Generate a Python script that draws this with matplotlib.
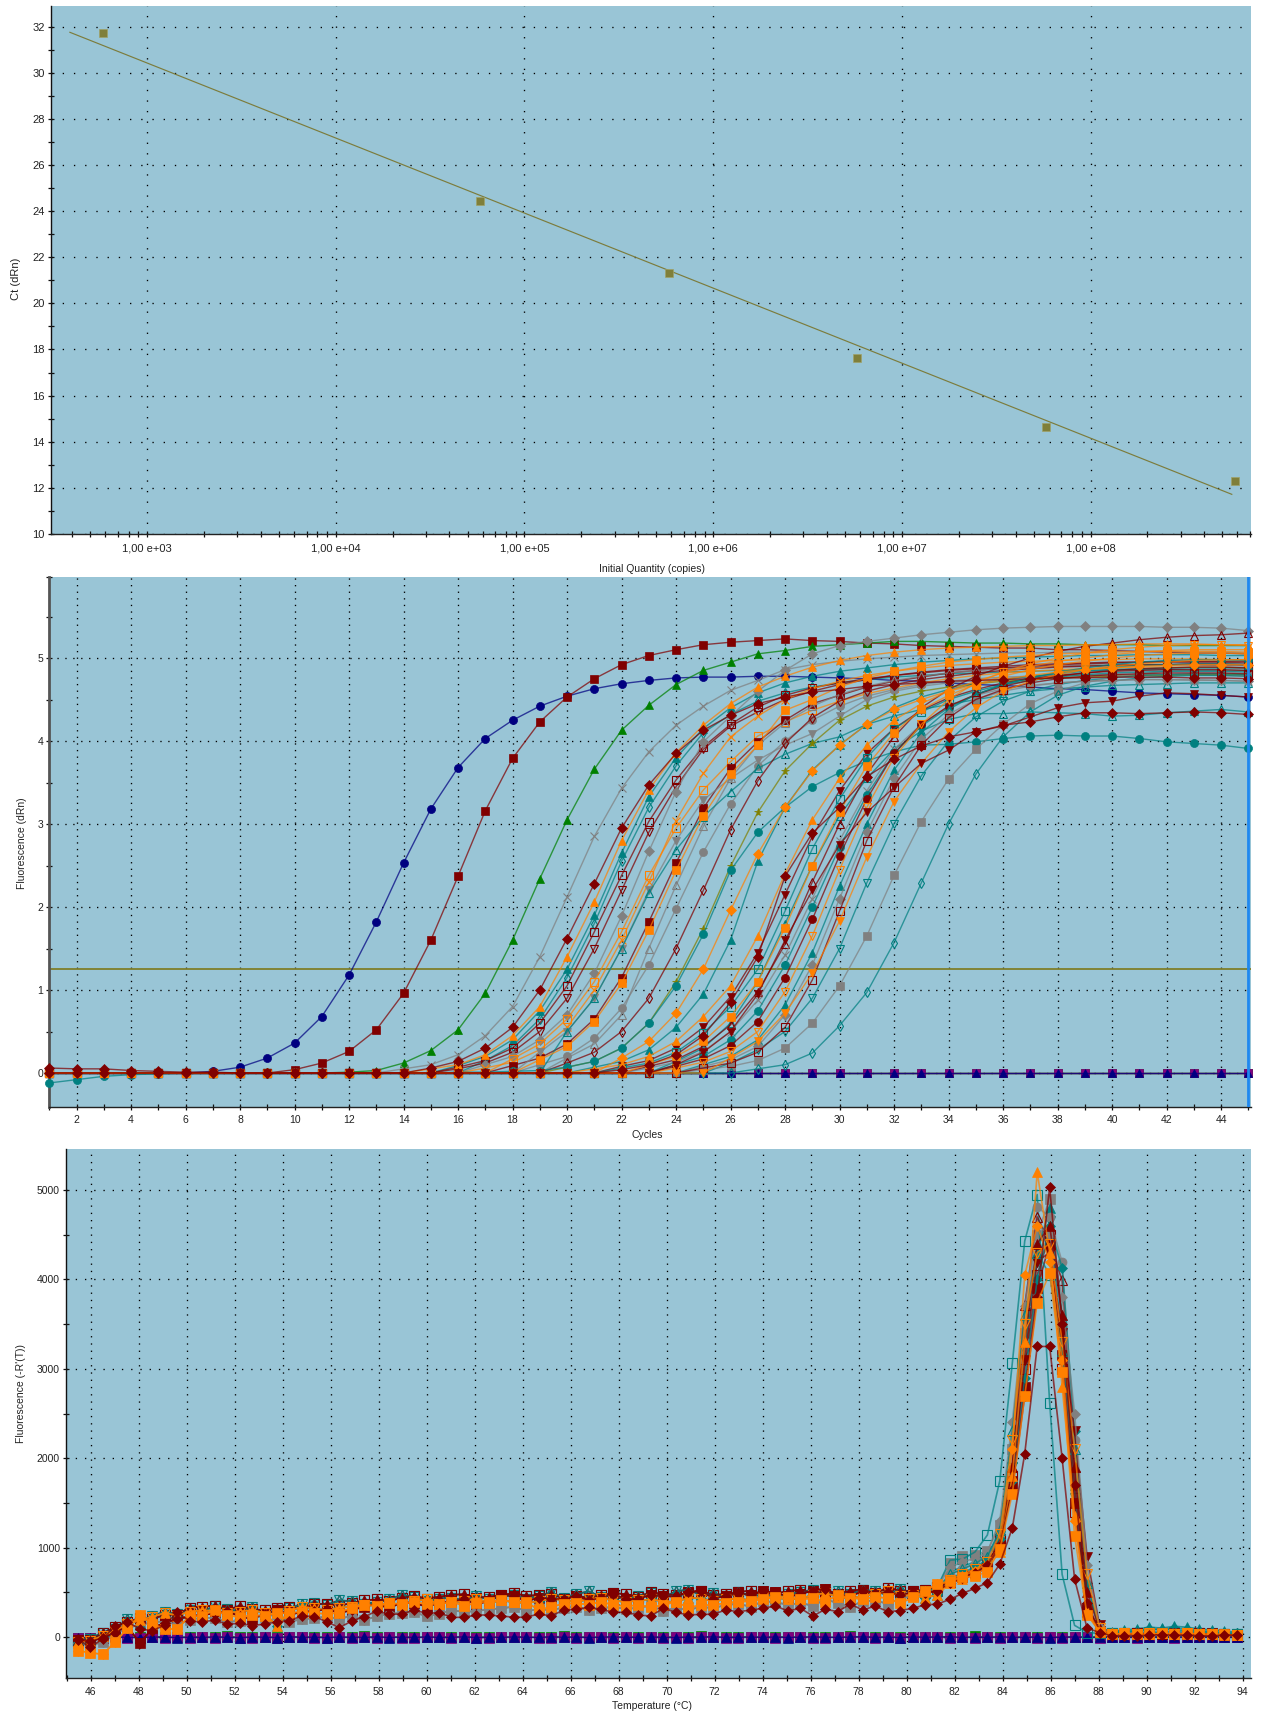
import numpy as np
import matplotlib
matplotlib.use('Agg')
import matplotlib.pyplot as plt
from matplotlib.colors import to_rgba

plt.rcParams['font.family'] = ['Liberation Sans', 'DejaVu Sans']

W, H = 1261, 1717
BG = '#99C5D6'
NAVY, MAROON, GREEN = '#000080', '#800000', '#008000'
GRAY, ORANGE, TEAL = '#808080', '#FF8000', '#008080'
OLIVE, PURPLE = '#808000', '#800080'

# --- standard curve ---
std_quantity = [5.85e2, 5.8e4, 5.8e5, 5.8e6, 5.8e7, 5.8e8]
std_ct = [31.7, 24.45, 21.3, 17.65, 14.65, 12.3]
fit_quantity = [3.9e2, 5.6e8]
fit_ct = [31.75, 11.72]
std_xticks = [1e3, 1e4, 1e5, 1e6, 1e7, 1e8]
std_xlabels = ['1,00 e+03', '1,00 e+04', '1,00 e+05', '1,00 e+06', '1,00 e+07', '1,00 e+08']

# --- amplification plot, values are the last cycles of each run up to cycle 45 ---
amp_threshold = 1.25
a_navy = [.02,.07,.18,.36,.68,1.18,1.82,2.53,3.18,3.68,4.03,4.25,4.42,4.54,4.63,4.69,4.73,4.76,4.77,4.77,4.78,4.78,4.77,4.76,4.75,4.73,4.72,4.70,4.68,4.67,4.65,4.63,4.62,4.60,4.58,4.57,4.56,4.55,4.53]
a_maroon1 = [.04,.12,.26,.52,.96,1.6,2.37,3.16,3.79,4.23,4.53,4.75,4.92,5.03,5.10,5.16,5.19,5.21,5.23,5.21,5.20,5.18,5.17,5.15,5.14,5.13,5.12,5.12,5.10,5.10,5.09,5.08,5.07,5.06,5.06,5.05]
a_green = [.01,.03,.12,.27,.52,.96,1.6,2.34,3.05,3.66,4.13,4.43,4.68,4.85,4.95,5.05,5.09,5.14,5.16,5.18,5.2,5.2,5.19,5.18,5.18,5.17,5.17,5.16,5.16,5.16,5.15,5.15,5.15,5.15]
a_gray_x = [.05,.1,.22,.45,.8,1.4,2.12,2.85,3.43,3.87,4.19,4.42,4.61,4.73,4.86,4.92,4.96,4.99,5.01,5.03,5.04,5.05,5.06,5.06,5.07,5.07,5.08,5.08,5.08,5.07,5.07,5.06]
a_mar_dia1 = [.06,.05,.05,.03,.02,.01,.01,0,0,0,0,0,0,0,.06,.14,.3,.55,1.0,1.62,2.28,2.95,3.47,3.85,4.13,4.31,4.45,4.53,4.59,4.62,4.66,4.68,4.7,4.72,4.73,4.74,4.75,4.76,4.76,4.77,4.77,4.77,4.76,4.76,4.75]
a_orange_tri = [.05,.1,.22,.45,.8,1.4,2.06,2.8,3.41,3.86,4.19,4.45,4.65,4.78,4.89,4.97,5.03,5.07,5.1,5.12,5.13,5.14,5.15,5.15,5.16,5.16,5.17,5.17,5.17,5.16,5.16]
a_teal_tri = [.09,.2,.4,.75,1.25,1.9,2.65,3.33,3.8,4.15,4.4,4.58,4.7,4.78,4.84,4.88,4.92,4.95,4.97,4.99,5.0,5.01,5.02,5.03,5.03,5.04,5.04,5.04,5.03,5.03]
a_teal_odia = [.15,.33,.65,1.15,1.8,2.55,3.2,3.7,4.1,4.32,4.48,4.58,4.65,4.7,4.74,4.77,4.79,4.81,4.82,4.83,4.84,4.85,4.85,4.86,4.86,4.86,4.85,4.85,4.85]
a_mar_osq = [.07,.15,.3,.6,1.05,1.7,2.38,3.03,3.53,3.93,4.2,4.41,4.55,4.64,4.7,4.75,4.79,4.82,4.85,4.87,4.88,4.89,4.9,4.91,4.91,4.92,4.92,4.92,4.91,4.91]
a_mar_otri = [.05,.12,.25,.5,.9,1.5,2.2,2.9,3.45,3.9,4.18,4.35,4.5,4.6,4.68,4.74,4.79,4.83,4.86,4.88,4.9,4.92,4.93,4.94,4.95,4.95,4.96,4.96,4.96,4.96]
a_gray_dia = [.1,.2,.4,.7,1.2,1.89,2.67,3.39,3.99,4.3,4.6,4.85,5.05,5.15,5.2,5.24,5.28,5.31,5.34,5.36,5.37,5.38,5.38,5.38,5.38,5.37,5.37,5.36,5.33]
a_orange_x = [.06,.13,.28,.55,1.0,1.6,2.3,3.04,3.61,4.05,4.3,4.5,4.63,4.72,4.79,4.84,4.88,4.91,4.93,4.95,4.96,4.97,4.98,4.98,4.99,4.99,4.99,4.98,4.98]
a_orange_osq = [.17,.35,.65,1.1,1.7,2.38,2.95,3.41,3.75,4.06,4.23,4.37,4.48,4.57,4.64,4.7,4.75,4.79,4.82,4.84,4.86,4.87,4.88,4.89,4.89,4.89,4.89,4.88]
a_mar_sq2 = [.09,.18,.35,.65,1.15,1.82,2.53,3.19,3.67,3.99,4.25,4.45,4.55,4.65,4.72,4.77,4.82,4.85,4.88,4.9,4.92,4.93,4.94,4.95,4.95,4.95,4.95,4.94]
a_orange_sq = [.16,.32,.62,1.08,1.72,2.44,3.1,3.6,3.95,4.37,4.5,4.65,4.76,4.84,4.9,4.95,4.98,5.01,5.03,5.05,5.06,5.07,5.08,5.08,5.08,5.08,5.07]
a_gray_cir = [.1,.2,.42,.78,1.3,1.98,2.66,3.24,3.7,4.0,4.25,4.42,4.54,4.62,4.68,4.72,4.75,4.77,4.78,4.79,4.8,4.8,4.8,4.8,4.8,4.79,4.78]
a_gray_otri = [.18,.35,.7,1.5,2.26,2.97,3.55,3.95,4.22,4.42,4.56,4.66,4.73,4.78,4.82,4.85,4.87,4.89,4.9,4.91,4.92,4.92,4.92,4.92,4.91,4.91]
a_gray_dtri = [.25,.5,.9,1.5,2.2,2.8,3.29,3.55,3.77,3.95,4.09,4.3,4.5,4.6,4.66,4.7,4.73,4.75,4.77,4.78,4.79,4.79,4.8,4.8,4.8,4.8,4.79]
a_teal_otri = [.5,.9,1.5,2.17,2.69,3.09,3.39,3.67,3.84,3.97,4.05,4.2,4.3,4.38,4.44,4.5,4.55,4.6,4.63,4.65,4.67,4.68,4.69,4.7,4.7,4.7]
a_mar_thin = [.12,.25,.5,.9,1.5,2.2,2.93,3.52,3.97,4.28,4.48,4.6,4.68,4.74,4.78,4.82,4.85,4.87,4.89,4.9,4.91,4.92,4.92,4.93,4.93,4.92]
a_olive_star = [.07,.14,.3,.6,1.1,1.74,2.49,3.14,3.64,3.97,4.25,4.42,4.53,4.6,4.65,4.69,4.72,4.74,4.76,4.77,4.78,4.79,4.79,4.8,4.8,4.8]
a_orange_dia = [.18,.38,.72,1.25,1.96,2.64,3.2,3.64,3.95,4.2,4.38,4.5,4.6,4.68,4.74,4.79,4.83,4.86,4.88,4.9,4.91,4.92,4.92,4.92]
a_teal_cir = [-.12,-.08,-.04,-.02,-.01,0,0,0,0,0,0,0,0,0,0,.01,.01,.02,.03,.07,.14,.3,.6,1.05,1.67,2.44,2.9,3.2,3.45,3.62,3.76,3.87,3.95,3.96,3.99,4.03,4.06,4.07,4.06,4.06,4.03,3.99,3.97,3.95,3.91]
a_teal_tri2 = [.07,.14,.28,.55,.95,1.6,2.55,3.2,3.65,3.95,4.2,4.4,4.53,4.62,4.69,4.74,4.78,4.81,4.84,4.86,4.87,4.88,4.88,4.88,4.88]
a_mar_dia2 = [.04,.1,.22,.45,.85,1.4,2.37,2.89,3.2,3.57,3.78,3.94,4.05,4.11,4.19,4.23,4.29,4.34,4.34,4.33,4.34,4.35,4.34,4.32]
a_mar_dtri = [.1,.25,.5,.95,1.6,2.2,2.75,3.14,3.44,3.73,3.89,4.11,4.18,4.29,4.4,4.46,4.48,4.54,4.58,4.57,4.55,4.53]
a_teal_otri2 = [.14,.3,.6,1.1,1.8,2.5,3.1,3.55,3.9,4.12,4.26,4.33,4.33,4.35,4.34,4.33,4.3,4.31,4.34,4.36,4.38,4.35]
a_orange_dtri = [.18,.38,.72,1.2,1.83,2.6,3.27,3.73,4.11,4.4,4.6,4.72,4.8,4.86,4.9,4.93,4.95,4.97,4.98,4.98]
a_teal_odtri = [.12,.28,.5,.9,1.5,2.29,3.0,3.58,4.0,4.29,4.48,4.6,4.68,4.73,4.76,4.79,4.8,4.81,4.81,4.8]
a_gray_sq = [.04,.08,.15,.3,.6,1.05,1.65,2.38,3.03,3.54,3.9,4.2,4.45,4.6,4.7,4.77,4.81,4.84,4.85,4.85,4.84]
a_teal_odia2 = [.05,.1,.24,.57,.97,1.57,2.29,3.0,3.6,4.05,4.35,4.55,4.66,4.72,4.76,4.78,4.79,4.79,4.78]
a_late1 = [.05,.1,.2,.38,.68,1.05,1.65,2.4,3.05,3.55,3.95,4.25,4.45,4.6,4.72,4.82,4.9,4.96,5.0,5.04,5.07,5.09,5.1,5.1,5.1]
a_late2 = [.08,.15,.3,.55,.92,1.45,2.15,2.85,3.4,3.85,4.15,4.37,4.52,4.62,4.7,4.75,4.79,4.82,4.84,4.85,4.86,4.86,4.86,4.85]
a_late3 = [.06,.12,.25,.48,.8,1.25,1.95,2.7,3.3,3.8,4.15,4.35,4.5,4.6,4.68,4.73,4.77,4.8,4.82,4.83,4.84,4.84,4.84,4.83]
a_late4 = [.1,.2,.38,.68,1.1,1.75,2.5,3.15,3.7,4.1,4.38,4.55,4.68,4.78,4.86,4.92,4.96,5.0,5.03,5.05,5.06,5.06,5.05]
a_late5 = [.08,.16,.32,.58,.98,1.55,2.3,3.0,3.6,4.05,4.4,4.62,4.78,4.9,5.0,5.08,5.14,5.18,5.22,5.25,5.27,5.28,5.3]
a_late6 = [.06,.13,.26,.5,.88,1.42,2.1,2.8,3.4,3.9,4.2,4.42,4.55,4.63,4.67,4.7,4.72,4.73,4.74,4.74,4.74,4.73,4.72]
a_late7 = [.1,.2,.4,.75,1.3,2.0,2.72,3.35,3.85,4.18,4.4,4.56,4.68,4.76,4.83,4.88,4.92,4.95,4.97,4.98,4.98,4.97]
a_late8 = [.08,.17,.33,.62,1.15,1.85,2.62,3.3,3.85,4.2,4.42,4.56,4.66,4.73,4.78,4.82,4.85,4.87,4.88,4.89,4.89,4.88]
a_late9 = [.06,.13,.26,.5,.98,1.65,2.45,3.2,3.8,4.2,4.5,4.7,4.83,4.93,5.0,5.06,5.1,5.13,5.15,5.16,5.16,5.15]
a_late10 = [.1,.2,.4,.82,1.45,2.25,3.0,3.65,4.1,4.38,4.56,4.68,4.76,4.82,4.86,4.89,4.91,4.92,4.93,4.93,4.92]
a_late11 = [.08,.16,.32,.7,1.3,2.1,2.9,3.55,4.02,4.32,4.5,4.6,4.66,4.7,4.72,4.73,4.74,4.74,4.73,4.73,4.72]
a_late12 = [.06,.12,.25,.55,1.12,1.95,2.8,3.45,3.95,4.28,4.5,4.62,4.7,4.75,4.78,4.8,4.81,4.82,4.82,4.82,4.81]

# --- melt curve, reverse derivative against temperature ---
low_orange = [-153,-175,-194,-60,97,246,150,90,90,235,235,302,246,220,246,235,272,265,283,270,257,272,328,358,350,376,370,395,365,373,395,350,380,395,
              410,395,395,300,339,370,380,360,395,357,345,357,333,357,395,328,357,357,380,395,400,420,451,451,421,433,395,470,440,421,450,433,376,443,520,593]
low_diamond = [-22,-115,-22,123,168,90,70,134,276,179,168,190,142,153,127,145,168,179,239,227,171,104,179,227,290,253,257,302,265,272,220,220,246,246,
               235,221,221,258,235,302,310,332,310,276,276,246,235,321,276,246,254,254,302,284,300,321,347,291,321,235,310,284,369,302,347,284,295,321,358,369]
low_teal = [-60,-40,10,70,140,190,225,270,240,285,300,290,270,285,300,270,120,290,340,320,300,330,340,360,350,380,360,400,420,370,390,400,430,380,
            410,390,380,400,430,410,395,420,440,410,390,410,420,400,390,440,430,400,420,430,410,450,440,420,430,470,490,450,430,460,480,510,460,470,440,470]
low_gray = [-70,-90,-60,30,110,130,170,170,140,190,220,210,170,180,240,220,260,170,200,210,230,200,240,190,230,260,270,280,230,260,300,280,290,310,
            320,340,290,310,300,330,340,300,320,340,310,330,350,290,330,300,340,320,360,370,340,400,390,360,380,350,420,380,340,400,410,370,430,460,500,560]
low_mar_open = [-40,-30,40,110,170,210,200,250,250,330,340,350,300,350,310,300,330,340,310,370,370,350,380,410,420,400,440,460,430,450,470,480,440,450,
                470,490,460,470,480,430,460,440,470,490,480,450,500,480,470,490,520,470,480,500,520,480,490,510,530,490,500,480,520,530,490,550,520,510,530,560]
low_teal_open = [-30,-20,50,90,200,150,240,280,260,300,280,350,310,290,340,260,300,320,370,380,360,410,400,370,390,420,470,450,400,430,440,410,460,420,
                 450,470,430,460,500,440,480,510,450,470,420,460,490,440,510,530,470,490,450,500,460,470,440,480,500,530,470,510,480,530,510,470,540,490,520,540]
low_maroon = [-30,-50,-10,50,120,-70,100,160,200,230,250,260,290,230,200,260,300,250,280,290,310,270,300,340,370,320,390,380,340,380,400,420,370,400,
              470,460,400,440,430,420,460,410,440,480,420,430,470,460,450,500,520,430,460,490,470,510,500,450,480,520,540,470,460,510,490,500,470,500,490,520]

tail_orange = [630,667,682,730,984,1600,2700,3740,4070,2960,1130,250,60,30,40,30,30,40,30,40,30,30,30,20]
tail_diamond = [421,488,544,608,816,1219,2050,3250,3250,2000,650,100,50,12,15,15,20,25,20,20,15,10,25,20]
tail_teal = [720,790,840,920,1150,2000,3300,4300,4800,3600,1700,350,70,60,80,90,110,100,120,110,90,80,70,50]
tail_gray = [830,910,920,960,1250,2100,3400,4500,4900,3400,1500,300,60,40,40,50,40,50,40,50,40,40,30,30]
tail_mar_open = [640,690,750,850,1100,1800,3000,4050,4500,3000,1400,280,60,30,30,40,30,40,30,30,40,30,30,20]
tail_maroon = [620,670,720,810,1050,1700,2800,3900,4400,3150,1500,320,70,30,40,30,40,30,40,30,30,40,30,20]
tail_teal_open = [610,700,730,880,1130,1900,3200,4200,4650,3300,1550,300,60,40,50,40,60,50,60,50,40,40,30,30]
tail_orange_tri = [600,650,700,780,950,1800,3300,5200,4300,2800,1350,300,70,40,30,40,30,40,30,30,30,30,20,20]
tail_mar_peak = [600,660,720,800,1020,1650,2700,3800,5030,3500,1700,380,70,30,30,40,30,30,40,30,30,30,20,20]
tail_teal_sq = [860,870,950,1140,1750,3060,4430,4950,2620,700,130,50,40,40,50,40,50,40,40,40,30,30,30,30]
tail_mar_tri = [640,700,760,840,1060,1900,3710,4700,4400,3990,1900,350,60,30,40,30,30,40,30,30,30,30,20,20]
tail_gray_cir = [700,760,820,900,1150,2000,3300,4810,4700,4190,2200,520,90,40,30,40,30,40,30,30,40,30,20,20]
tail_teal_tri = [650,720,780,870,1100,1750,2900,4000,4600,4130,2300,600,100,50,60,70,90,80,100,90,70,60,50,40]
tail_orange_dia = [610,680,740,810,1020,2100,4050,4600,4200,3100,1300,260,60,30,40,30,30,30,40,30,30,30,20,20]
tail_gray_late = [780,840,880,950,1300,2400,3700,4600,4500,3800,2500,800,110,40,40,50,40,40,50,40,40,30,30,30]
tail_orange_late = [640,700,760,840,1150,2200,3500,4300,4400,3300,2100,700,100,30,40,30,40,30,30,40,30,30,20,20]
tail_maroon_late = [600,650,700,780,1000,1750,3100,4200,4300,3400,2300,900,130,30,30,40,30,30,40,30,30,30,20,20]
tail_teal_late = [700,760,820,900,1200,2300,3600,4300,4050,3200,2100,600,80,50,60,70,80,90,80,70,60,50,40,40]
tail_mar_tri2 = [620,680,730,810,1050,1900,3300,4400,4600,3600,1900,500,90,30,40,30,40,30,30,30,40,30,20,20]

ntc_green = [-8,-12,-6,4,2,-3,5,1,-4,3,2,-5,6,0,-2,4,-3,1,5,-1,3,-4,2,6,-2,1,4,-5,0,3,-1,5,-2,2,-3,4,1,-4,3,6,
             -1,2,-3,5,0,4,-2,1,3,-4,6,0,-1,2,5,-3,1,4,-2,3,0,-4,6,2,-1,3,1,5,-2,4,3,-3,6,0,2,-1,4,1,3,-2,5,0,2,-1,3,1,-2,4,0,2,-1,1,3,0]
ntc_purple = [-10,-15,-9,-3,-6,-8,-2,-7,-5,-9,-4,-8,-3,-6,-7,-2,-9,-5,-4,-8,-6,-3,-7,-5,-9,-2,-6,-8,-4,-5,-7,-3,-6,-9,-4,-5,-2,-8,-6,-3,
             -7,-4,-5,-9,-2,-6,-3,-8,-5,-7,-4,-2,-6,-9,-3,-5,-8,-4,-2,-6,-7,-3,-5,-1,-8,-4,-6,-2,-5,-3,-7,-4,-6,-2,-8,-5,-3,-6,-4,-7,-2,-5,-6,-3,-4,-7,-5,-2,-6,-4,-3,-5,-2,-4]
ntc_navy = [-6,-9,-5,1,-4,-7,0,-3,-6,-2,-5,1,-4,-7,-1,-3,-6,2,-4,-2,-7,-1,-3,-5,1,-6,-2,-4,0,-5,-3,1,-6,-2,-4,0,-3,-5,2,-4,
            -1,-6,-2,1,-5,-3,0,-4,-6,-1,-2,2,-5,-3,-1,-4,0,-6,-2,1,-3,-5,-1,2,-4,-2,-6,0,-3,-1,2,-5,-2,-4,1,-3,-5,-1,-6,-2,0,-4,-3,-1,-2,-4,0,-3,-1,-2,-4,0,-2,-1]

cycles = np.arange(1, 46)
temps = np.linspace(45.45, 93.75, 94)


def full(values):
    # baseline stays flat until the curve takes off
    return [0.0] * (45 - len(values)) + list(values)


def axes_px(left, top, right, bottom):
    ax = fig.add_axes([left / W, 1 - bottom / H, (right - left) / W, (bottom - top) / H])
    ax.set_facecolor(BG)
    ax.spines['top'].set_visible(False)
    ax.spines['right'].set_visible(False)
    ax.set_axisbelow(True)
    return ax


def label_px(x, y, text, rotation=0, size=7.5):
    fig.text(x / W, 1 - y / H, text, rotation=rotation, ha='center', va='center',
             fontsize=size, color='#222222')


def draw(ax, x, y, color, marker, filled=True, ms=5.6, lw=1.0, z=3):
    ax.plot(x, y, color=to_rgba(color, 0.72), lw=lw, marker=marker, ms=ms,
            mfc=color if filled else 'none', mec=color, mew=0.5 if filled else 0.8,
            zorder=z, clip_on=False)


def style_axis(ax, xpad, ysize=7.5, spine='#111111', spine_w=1.0):
    ax.tick_params(axis='both', which='both', direction='inout', length=4,
                   width=0.9, color='#111111', labelsize=ysize, labelcolor='#222222')
    ax.tick_params(axis='x', which='major', pad=xpad)
    ax.tick_params(axis='y', which='major', pad=2.5)
    ax.spines['left'].set_color(spine)
    ax.spines['left'].set_linewidth(spine_w)
    ax.spines['bottom'].set_color('#222222')
    ax.spines['bottom'].set_linewidth(1.0)


def dotted_grid(ax, xgap, ygap):
    ax.grid(True, axis='x', which='major', color='black', lw=0.95, linestyle=(0, (1, xgap)))
    ax.grid(True, axis='y', which='major', color='black', lw=0.95, linestyle=(0, (1, ygap)))


fig = plt.figure(figsize=(W / 100, H / 100), dpi=100, facecolor='white')

# top panel
ax1 = axes_px(51, 6, 1251, 534)
ax1.set_xscale('log')
ax1.set_xlim(10 ** 2.491, 10 ** 8.85)
ax1.set_ylim(10, 32.89)
ax1.plot(fit_quantity, fit_ct, color='#7C7C3C', lw=0.85, zorder=3)
ax1.plot(std_quantity, std_ct, ls='none', marker='s', ms=6, mfc='#7F7F3A', mec='#A0A268', mew=0.5, zorder=4)
ax1.set_xticks(std_xticks)
ax1.set_xticklabels(std_xlabels)
ax1.set_xticks([m * 10 ** e for e in range(2, 9) for m in range(2, 10)
                if 10 ** 2.491 < m * 10 ** e < 10 ** 8.85], minor=True)
ax1.set_xticklabels([], minor=True)
ax1.set_yticks(np.arange(10, 33, 2))
ax1.set_yticks(np.arange(11, 33, 2), minor=True)
style_axis(ax1, 5, ysize=8)
dotted_grid(ax1, 7, 7.5)
label_px(16, 279, 'Ct (dRn)', rotation=90, size=8)
label_px(652, 569, 'Initial Quantity (copies)')

# middle panel
ax2 = axes_px(49.3, 577, 1251, 1106.7)
ax2.set_xlim(1, 45.1)
ax2.set_ylim(-0.406, 5.976)
ax2.set_xticks(np.arange(2, 45, 2))
ax2.set_xticks(np.arange(1, 46, 2), minor=True)
ax2.set_yticks([0, 1, 2, 3, 4, 5])
ax2.set_yticks([0.5, 1.5, 2.5, 3.5, 4.5, 5.5, 5.97], minor=True)
style_axis(ax2, 4, spine='#555555', spine_w=2.0)
dotted_grid(ax2, 4, 5)
ax2.axhline(amp_threshold, color='#7F7F2A', lw=1.3, zorder=2)

# no-template wells sit on the zero line
for color, marker in [(OLIVE, 's'), (GREEN, 's'), (PURPLE, 's'), (NAVY, '^')]:
    draw(ax2, cycles, [0.0] * 45, color, marker, ms=6.2 if marker == 's' else 5.2, z=2.5)

amp_curves = [
    (a_navy, NAVY, 'o', True), (a_maroon1, MAROON, 's', True), (a_green, GREEN, '^', True),
    (a_gray_x, GRAY, 'x', False), (a_teal_tri, TEAL, '^', True), (a_teal_odia, TEAL, 'd', False),
    (a_mar_osq, MAROON, 's', False), (a_mar_otri, MAROON, 'v', False), (a_gray_dia, GRAY, 'D', True),
    (a_orange_x, ORANGE, 'x', False), (a_orange_osq, ORANGE, 's', False), (a_mar_sq2, MAROON, 's', True),
    (a_gray_cir, GRAY, 'o', True), (a_gray_otri, GRAY, '^', False), (a_gray_dtri, GRAY, 'v', True),
    (a_teal_otri, TEAL, '^', False), (a_mar_thin, MAROON, 'd', False), (a_olive_star, OLIVE, '*', True),
    (a_teal_cir, TEAL, 'o', True), (a_teal_tri2, TEAL, '^', True), (a_teal_otri2, TEAL, '^', False),
    (a_teal_odtri, TEAL, 'v', False), (a_gray_sq, GRAY, 's', True), (a_teal_odia2, TEAL, 'd', False),
    (a_late2, MAROON, 'v', True), (a_late3, TEAL, 's', False), (a_late5, MAROON, '^', False),
    (a_late6, GRAY, 'x', False), (a_late7, TEAL, 'o', True), (a_late8, MAROON, 'o', True),
    (a_late10, TEAL, '^', True), (a_late11, GRAY, 'D', True), (a_late12, MAROON, 's', False),
    (a_orange_dia, ORANGE, 'D', True), (a_late1, ORANGE, '^', True), (a_late9, ORANGE, 'v', False),
    (a_orange_dtri, ORANGE, 'v', True), (a_orange_tri, ORANGE, '^', True), (a_orange_sq, ORANGE, 's', True),
    (a_late4, ORANGE, 's', True), (a_mar_dtri, MAROON, 'v', True), (a_mar_dia2, MAROON, 'D', True),
    (a_mar_dia1, MAROON, 'D', True),
]
for values, color, marker, filled in amp_curves:
    size = 4.6 if marker == 'd' else 5.2 if marker == 'D' else 5.8
    draw(ax2, cycles, full(values), color, marker, filled, ms=size)
ax2.axvline(45, color='#1E88F0', lw=2.0, zorder=6)
label_px(22, 843, 'Fluorescence (dRn)', rotation=90)
label_px(647, 1135, 'Cycles')

# bottom panel
ax3 = axes_px(66.3, 1149, 1251, 1678.3)
ax3.set_xlim(44.98, 94.35)
ax3.set_ylim(-462, 5459)
ax3.set_xticks(np.arange(46, 95, 2))
ax3.set_xticks(np.arange(45, 95, 2), minor=True)
ax3.set_yticks([0, 1000, 2000, 3000, 4000, 5000])
ax3.set_yticks([500, 1500, 2500, 3500, 4500], minor=True)
style_axis(ax3, 4.5)
dotted_grid(ax3, 4.5, 6)

draw(ax3, temps, ntc_green, GREEN, 's', ms=7, z=2.5)
draw(ax3, temps, ntc_purple, PURPLE, 's', ms=6.5, z=2.5)
draw(ax3, temps, ntc_navy, NAVY, '^', ms=6.5, z=2.5)

melt_curves = [
    (low_gray, tail_gray, GRAY, 's', True), (low_teal, tail_teal, TEAL, '^', True),
    (low_teal_open, tail_teal_open, TEAL, 'v', False), (low_mar_open, tail_teal_sq, TEAL, 's', False),
    (low_mar_open, tail_mar_open, MAROON, 's', False), (low_maroon, tail_maroon, MAROON, 's', True),
    (low_gray, tail_gray_cir, GRAY, 'o', True), (low_teal_open, tail_mar_tri, MAROON, '^', False),
    (low_teal, tail_teal_tri, TEAL, 'D', True), (low_maroon, tail_maroon_late, MAROON, 'v', True),
    (low_gray, tail_gray_late, GRAY, 'D', True), (low_teal_open, tail_teal_late, TEAL, '^', False),
    (low_mar_open, tail_mar_tri2, MAROON, '^', True), (low_orange, tail_orange_dia, ORANGE, 'D', True),
    (low_teal, tail_orange_late, ORANGE, 'v', False), (low_teal, tail_orange_tri, ORANGE, '^', True),
    (low_maroon, tail_mar_peak, MAROON, 'D', True),
    (low_orange, tail_orange, ORANGE, 's', True), (low_diamond, tail_diamond, MAROON, 'D', True),
]
for low, tail, color, marker, filled in melt_curves:
    size = 5.2 if marker == 'D' else 6.5
    draw(ax3, temps, low + tail, color, marker, filled, ms=size, lw=1.2)
label_px(21, 1393, "Fluorescence (-R'(T))", rotation=90)
label_px(652, 1706, 'Temperature (°C)')

fig.savefig('out.png', dpi=100, facecolor='white')
